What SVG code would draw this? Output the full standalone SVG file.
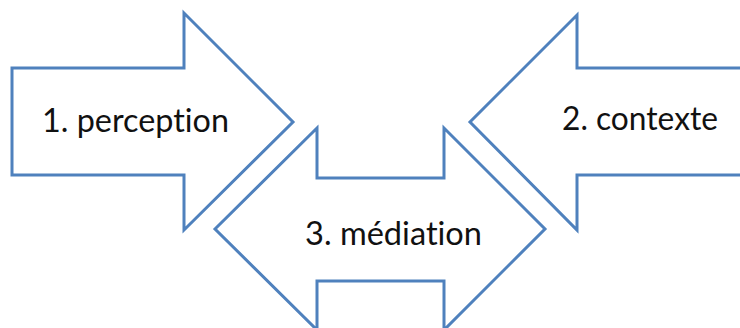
<svg xmlns="http://www.w3.org/2000/svg" width="740" height="328" viewBox="0 0 740 328">
<style>
.shape{fill:#ffffff;stroke:#4f81bd;stroke-width:3;stroke-linejoin:miter}
.lbl{font-family:Lato,"Open Sans","Liberation Sans",sans-serif;font-size:33px;fill:#111111;font-variant-ligatures:none;font-feature-settings:"liga" 0}
</style>
<rect width="740" height="328" fill="#ffffff"/>
<g id="perception">
<polygon class="shape" points="12,68 184,68 184,13 293,122 184,230 184,175 12,175"/>
<text class="lbl" x="42" y="132" textLength="187" lengthAdjust="spacingAndGlyphs">1. perception</text>
</g>
<g id="contexte">
<polygon class="shape" points="745,68 577,68 577,15 470,122 577,230 577,175 745,175"/>
<text class="lbl" x="562" y="130" textLength="156" lengthAdjust="spacingAndGlyphs">2. contexte</text>
</g>
<g id="mediation">
<polygon class="shape" points="215,229 317,128 317,178 444,178 444,128 545,229 444,330 444,281 317,281 317,330"/>
<text class="lbl" x="305" y="245" textLength="177" lengthAdjust="spacingAndGlyphs">3. médiation</text>
</g>
<g id="connectors"></g>
</svg>
